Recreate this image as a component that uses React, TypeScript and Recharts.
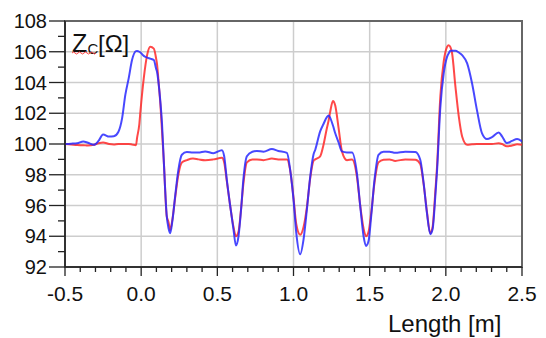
import { LineChart, Line, XAxis, YAxis, CartesianGrid, ReferenceArea } from 'recharts';

// length along the line [m]
const lengthM = [
  -0.5, -0.46, -0.42, -0.38, -0.35, -0.31, -0.28, -0.25, -0.21, -0.18, -0.15, -0.125, -0.104, -0.082, -0.06,
  -0.034, -0.027, -0.012, -0.005, 0.017, 0.039, 0.06, 0.083, 0.098, 0.104, 0.116, 0.126, 0.137, 0.148, 0.168,
  0.18, 0.19, 0.205, 0.223, 0.244, 0.267, 0.3, 0.34, 0.376, 0.42, 0.474, 0.53, 0.545, 0.562, 0.584, 0.606,
  0.622, 0.639, 0.656, 0.671, 0.694, 0.73, 0.76, 0.803, 0.858, 0.9, 0.957, 0.978, 1.0, 1.018, 1.044, 1.066,
  1.088, 1.11, 1.131, 1.143, 1.175, 1.197, 1.219, 1.23, 1.241, 1.259, 1.274, 1.296, 1.318, 1.351, 1.384, 1.416,
  1.438, 1.46, 1.476, 1.493, 1.51, 1.532, 1.558, 1.591, 1.63, 1.668, 1.734, 1.8, 1.832, 1.854, 1.876, 1.898,
  1.913, 1.931, 1.942, 1.964, 1.986, 2.008, 2.019, 2.03, 2.041, 2.063, 2.085, 2.107, 2.14, 2.172, 2.204, 2.237,
  2.27, 2.303, 2.347, 2.369, 2.4, 2.435, 2.468, 2.5,
];

// Zc, blue trace [Ohm]
const zcBlue = [
  100.0, 100.02, 100.05, 100.17, 100.08, 99.95, 100.2, 100.62, 100.48, 100.5, 100.78, 101.68, 103.19, 104.27, 105.46,
  106.04, 106.05, 106.0, 105.95, 105.73, 105.62, 105.55, 105.46, 104.9, 104.7, 103.8, 102.76, 101.3, 99.0, 95.3,
  94.5, 94.2, 95.0, 96.6, 98.3, 99.3, 99.48, 99.45, 99.45, 99.52, 99.4, 99.6, 99.2, 97.7, 96.0, 94.45,
  93.4, 94.0, 95.75, 97.7, 99.2, 99.5, 99.55, 99.5, 99.68, 99.55, 99.42, 98.34, 96.4, 94.24, 92.83, 93.8,
  95.75, 97.9, 99.3, 99.63, 100.82, 101.3, 101.75, 101.85, 101.7, 101.2, 100.7, 100.1, 99.52, 99.45, 99.45, 98.12,
  95.96, 94.0, 93.37, 93.7, 95.3, 97.7, 99.3, 99.5, 99.5, 99.43, 99.5, 99.48, 98.98, 97.48, 95.5, 94.13,
  94.45, 96.6, 98.2, 102.4, 104.6, 105.67, 105.9, 106.06, 106.06, 106.06, 105.95, 105.78, 105.24, 103.95, 102.22, 100.71,
  100.32, 100.45, 100.75, 100.5, 100.06, 100.2, 100.32, 100.17,
];

// Zc, red trace [Ohm]
const zcRed = [
  100.0, 99.97, 99.93, 99.92, 99.9, 99.95, 100.05, 100.1, 100.0, 99.97, 100.0, 100.0, 100.0, 100.0, 99.97,
  99.92, 100.39, 101.3, 102.1, 104.27, 105.78, 106.32, 106.2, 105.57, 105.2, 103.84, 102.6, 100.82, 99.0, 95.3,
  94.9, 94.4, 95.1, 96.5, 98.0, 98.8, 98.95, 99.05, 99.0, 98.95, 99.0, 99.1, 98.8, 97.6, 96.0, 94.6,
  94.0, 94.3, 95.8, 97.4, 98.8, 99.0, 99.0, 98.95, 99.05, 99.0, 99.0, 98.3, 96.5, 94.8, 94.1, 94.6,
  95.9, 97.8, 98.9, 99.0, 99.2, 99.95, 101.03, 101.5, 102.1, 102.8, 102.5, 101.03, 99.52, 98.95, 99.0, 97.9,
  96.0, 94.5, 94.0, 94.3, 95.5, 97.5, 98.8, 98.98, 99.0, 98.9, 99.0, 98.98, 98.7, 97.4, 95.6, 94.2,
  94.6, 96.9, 98.5, 103.1, 105.35, 106.32, 106.43, 106.3, 105.9, 103.73, 101.79, 100.49, 99.95, 99.98, 100.0, 100.0,
  100.0, 100.0, 100.05, 100.0, 99.85, 99.9, 99.98, 99.95,
];

const xTicks = [
  -0.5, -0.4, -0.3, -0.2, -0.1, 0, 0.1, 0.2, 0.3, 0.4, 0.5, 0.6, 0.7, 0.8, 0.9, 1.0,
  1.1, 1.2, 1.3, 1.4, 1.5, 1.6, 1.7, 1.8, 1.9, 2.0, 2.1, 2.2, 2.3, 2.4, 2.5,
];
const xGrid = [-0.5, 0, 0.5, 1.0, 1.5, 2.0, 2.5];
const yTicks = [92, 93, 94, 95, 96, 97, 98, 99, 100, 101, 102, 103, 104, 105, 106, 107, 108];
const yGrid = [92, 94, 96, 98, 100, 102, 104, 106, 108];

const data = lengthM.map((x, i) => ({ x, blue: zcBlue[i], red: zcRed[i] }));

const FONT = '"Liberation Sans", Arial, sans-serif';

const XTick = (props: any) => {
  const { x, y, payload } = props;
  const v = payload.value as number;
  const major = Math.abs(v * 2 - Math.round(v * 2)) < 1e-6;
  return (
    <g>
      <line x1={x} y1={y} x2={x} y2={y + (major ? 9 : 5)} stroke="#222" strokeWidth={1.3} />
      {major && (
        <text x={x} y={y + 34} textAnchor="middle" fontSize={21} fontFamily={FONT} fill="#111">
          {v.toFixed(1)}
        </text>
      )}
    </g>
  );
};

const YTick = (props: any) => {
  const { x, y, payload } = props;
  const v = payload.value as number;
  const major = v % 2 === 0;
  return (
    <g>
      <line x1={x} y1={y} x2={x - (major ? 16 : 7)} y2={y} stroke="#222" strokeWidth={1.3} />
      {major && (
        <text x={x - 18} y={y + 7} textAnchor="end" fontSize={20} fontFamily={FONT} fill="#111">
          {v}
        </text>
      )}
    </g>
  );
};

export default function App() {
  return (
    <div style={{ position: 'absolute', left: 0, top: 0, width: 546, height: 338, background: '#fff' }}>
      <LineChart width={546} height={338} data={data} margin={{ top: 21, right: 24, bottom: 20, left: 0 }}>
        <CartesianGrid
          stroke="#cdcdcd"
          strokeWidth={1.5}
          horizontalValues={yGrid}
          verticalValues={xGrid}
        />
        <ReferenceArea x1={-0.5} x2={2.5} y1={92} y2={108} fill="none" stroke="#666" strokeWidth={2} />
        <XAxis
          dataKey="x"
          type="number"
          domain={[-0.5, 2.5]}
          ticks={xTicks}
          interval={0}
          height={51}
          tickSize={0}
          tickMargin={0}
          tickLine={false}
          axisLine={{ stroke: '#222', strokeWidth: 1.5 }}
          tick={XTick}
          allowDataOverflow
        />
        <YAxis
          type="number"
          domain={[92, 108]}
          ticks={yTicks}
          interval={0}
          width={65}
          tickSize={0}
          tickMargin={0}
          tickLine={false}
          axisLine={{ stroke: '#222', strokeWidth: 1.5 }}
          tick={YTick}
          allowDataOverflow
        />
        <Line
          type="monotone"
          dataKey="red"
          stroke="rgba(255,40,40,0.85)"
          strokeWidth={2}
          dot={false}
          isAnimationActive={false}
        />
        <Line
          type="monotone"
          dataKey="blue"
          stroke="rgba(40,40,255,0.85)"
          strokeWidth={2}
          dot={false}
          isAnimationActive={false}
        />
      </LineChart>
      <svg
        width={546}
        height={338}
        style={{ position: 'absolute', left: 0, top: 0, pointerEvents: 'none' }}
      >
        <text x={72} y={52} fontSize={25} fontFamily={FONT} fill="#111">
          Z
        </text>
        <text x={87.5} y={54} fontSize={15} fontFamily={FONT} fill="#111">
          C
        </text>
        <text x={98} y={52} fontSize={24} fontFamily={FONT} fill="#111">
          [Ω]
        </text>
        <path
          d="M72 53 q1.5 -2 3 0 t3 0 t3 0 t3 0 t3 0 t3 0 t3 0 t3 0"
          fill="none"
          stroke="#ff4040"
          strokeWidth={1}
        />
        <text x={388} y={332} fontSize={24} fontFamily={FONT} fill="#111">
          Length [m]
        </text>
      </svg>
    </div>
  );
}
